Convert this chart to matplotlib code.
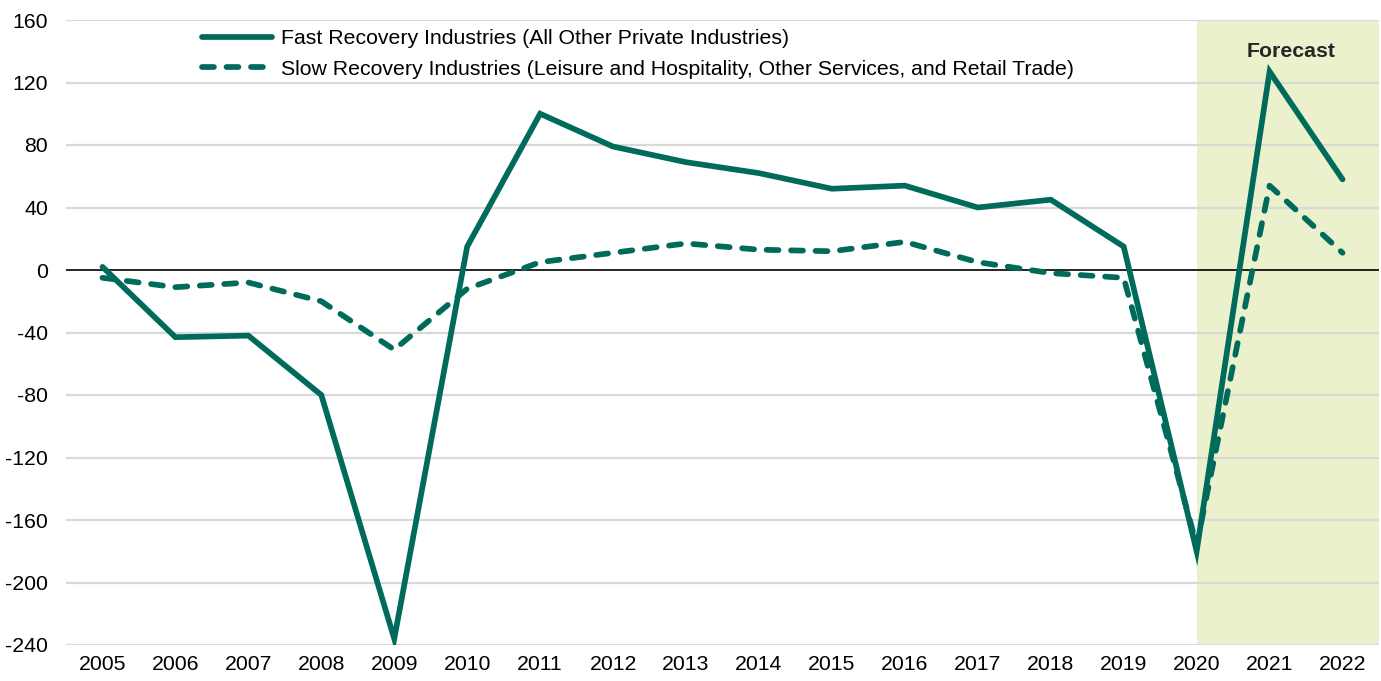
import matplotlib
matplotlib.use("Agg")
import matplotlib.pyplot as plt
import numpy as np

years = [str(y) for y in range(2005, 2023)]
fast = [2, -43, -42, -80, -236, 15, 100, 79, 69, 62, 52, 54, 40, 45, 15, -180, 127, 58]
slow = [-5, -11, -8, -20, -51, -12, 5, 11, 17, 13, 12, 18, 5, -2, -5, -176, 54, 11]
fast_label = "Fast Recovery Industries (All Other Private Industries)"
slow_label = "Slow Recovery Industries (Leisure and Hospitality, Other Services, and Retail Trade)"
yticks = [160, 120, 80, 40, 0, -40, -80, -120, -160, -200, -240]
forecast_start = 15  # index of 2020

plt.rcParams['font.family'] = ['Liberation Sans', 'DejaVu Sans']

W, H = 1381, 681
fig = plt.figure(figsize=(W / 100, H / 100), dpi=100)
ax = fig.add_axes([66 / W, 1 - 645 / H, (1379 - 66) / W, (645 - 20) / H])

x = np.arange(len(years))
color = '#006B5B'
fs = 15.3

ax.axvspan(forecast_start, len(years) - 0.5, color='#EBF1CD', zorder=0, lw=0)
for t in yticks:
    if t != 0:
        ax.axhline(t, color='#D9D9D9', lw=1.6, zorder=1)
ax.axhline(0, color='black', lw=1.2, zorder=2)

ax.plot(x, fast, color=color, lw=4.1, solid_capstyle='round', solid_joinstyle='miter',
        label=fast_label, zorder=4)
ax.plot(x, slow, color=color, lw=4.1, linestyle=(0, (2.1, 2.2)), dash_capstyle='round',
        label=slow_label, zorder=3)

ax.set_xlim(-0.5, len(years) - 0.5)
ax.set_ylim(-240, 160)
ax.set_xticks(x)
ax.set_xticklabels(years)
ax.set_yticks(yticks)
ax.set_yticklabels([str(t) for t in yticks])
ax.tick_params(axis='both', length=0, labelsize=fs, colors='black')
ax.tick_params(axis='y', pad=13)
ax.tick_params(axis='x', pad=7)
for s in ax.spines.values():
    s.set_visible(False)

ax.text(16.3, 140, 'Forecast', ha='center', va='center', fontsize=fs,
        fontweight='bold', color='#262626')

leg = ax.legend(loc='upper left', bbox_to_anchor=(202 / W, 1 - 29 / H),
                bbox_transform=fig.transFigure, frameon=False, fontsize=fs,
                handlelength=3.3, handletextpad=0.4, borderpad=0, borderaxespad=0,
                labelspacing=0.55)

fig.savefig('out.png', dpi=100)
